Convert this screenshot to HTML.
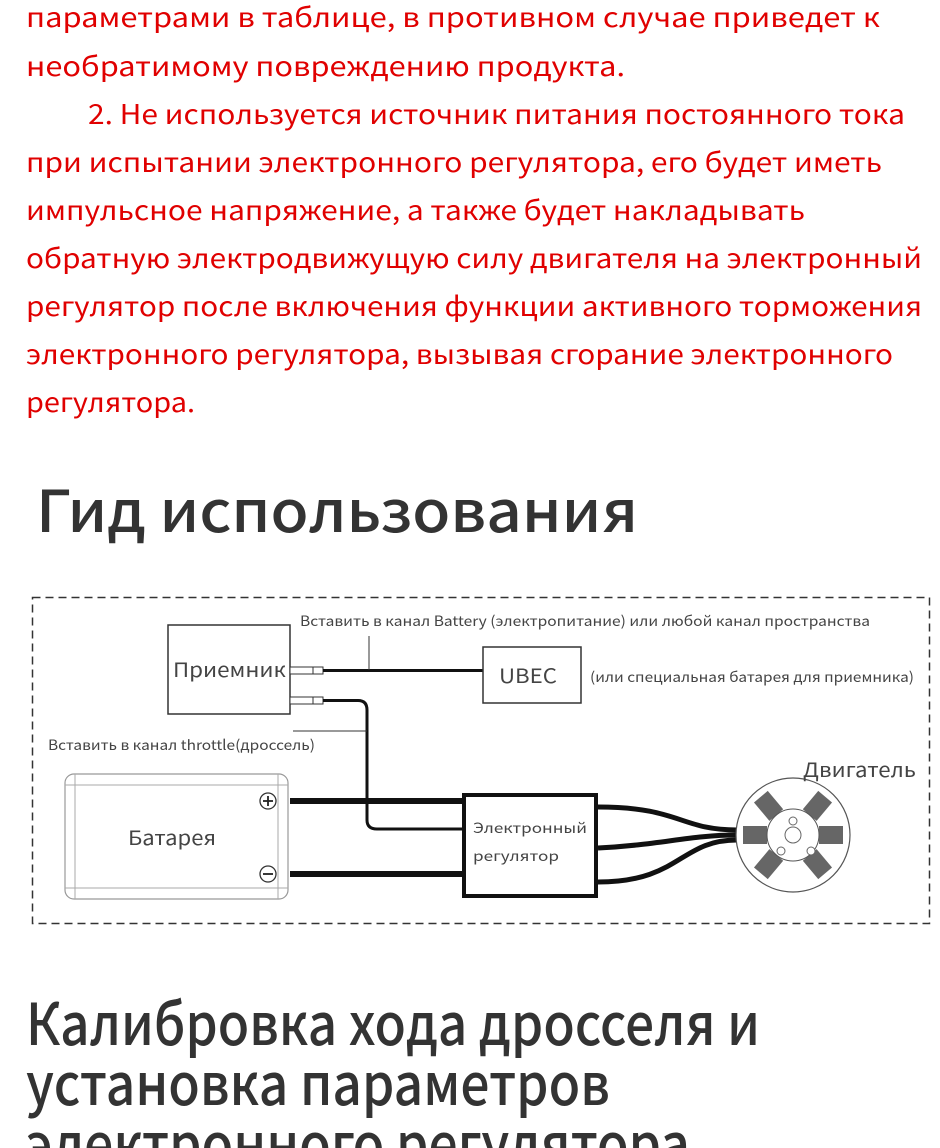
<!DOCTYPE html>
<html><head><meta charset="utf-8"><style>
html,body{margin:0;padding:0;background:#fff;width:940px;height:1148px;overflow:hidden}
svg{display:block}
text{font-family:"Noto Sans CJK SC","Liberation Sans",sans-serif}
.r{fill:#e00000;font-size:27px}
.h{fill:#333;font-size:58px;font-weight:500}
.d{fill:#444;font-size:14px}
.m{fill:#444;font-size:20px}
</style></head><body>
<svg width="940" height="1148" viewBox="0 0 940 1148">
<g class="r">
<text x="26" y="27" textLength="854" lengthAdjust="spacingAndGlyphs">параметрами в таблице, в противном случае приведет к</text>
<text x="26" y="76" textLength="599" lengthAdjust="spacingAndGlyphs">необратимому повреждению продукта.</text>
<text x="88" y="124" textLength="817" lengthAdjust="spacingAndGlyphs">2. Не используется источник питания постоянного тока</text>
<text x="26" y="172" textLength="856" lengthAdjust="spacingAndGlyphs">при испытании электронного регулятора, его будет иметь</text>
<text x="26" y="220" textLength="779" lengthAdjust="spacingAndGlyphs">импульсное напряжение, а также будет накладывать</text>
<text x="26" y="268" textLength="896" lengthAdjust="spacingAndGlyphs">обратную электродвижущую силу двигателя на электронный</text>
<text x="26" y="316" textLength="896" lengthAdjust="spacingAndGlyphs">регулятор после включения функции активного торможения</text>
<text x="26" y="364" textLength="867" lengthAdjust="spacingAndGlyphs">электронного регулятора, вызывая сгорание электронного</text>
<text x="26" y="412" textLength="169" lengthAdjust="spacingAndGlyphs">регулятора.</text>
</g>
<text class="h" x="36" y="532" textLength="602" lengthAdjust="spacingAndGlyphs">Гид использования</text>
<text class="h" x="26" y="1045" textLength="734" lengthAdjust="spacingAndGlyphs">Калибровка хода дросселя и</text>
<text class="h" x="26" y="1105" textLength="584" lengthAdjust="spacingAndGlyphs">установка параметров</text>
<text class="h" x="26" y="1165" textLength="664" lengthAdjust="spacingAndGlyphs">электронного регулятора</text>

<rect x="32.5" y="597.5" width="897" height="326" fill="none" stroke="#333" stroke-width="1.5" stroke-dasharray="8,5"/>
<rect x="168" y="625" width="122" height="89" fill="none" stroke="#333" stroke-width="1.5"/>
<text class="m" x="173" y="677" textLength="113" lengthAdjust="spacingAndGlyphs">Приемник</text>
<rect x="290" y="667" width="24" height="7" fill="#fff" stroke="#333"/><rect x="313" y="667" width="10" height="7" fill="#fff" stroke="#333"/>
<rect x="290" y="697" width="24" height="7" fill="#fff" stroke="#333"/><rect x="313" y="697" width="10" height="7" fill="#fff" stroke="#333"/>
<line x1="323" y1="670.5" x2="483" y2="670.5" stroke="#111" stroke-width="3"/>
<line x1="369" y1="636" x2="369" y2="670" stroke="#333" stroke-width="1"/>
<text class="d" x="300" y="626" textLength="570" lengthAdjust="spacingAndGlyphs">Вставить в канал  Battery (электропитание) или любой канал пространства</text>
<rect x="483" y="647" width="98" height="56" fill="none" stroke="#333" stroke-width="1.5"/>
<text class="m" x="499" y="683" textLength="58" lengthAdjust="spacingAndGlyphs">UBEC</text>
<text class="d" x="590" y="682" textLength="324" lengthAdjust="spacingAndGlyphs">(или специальная батарея для приемника)</text>
<path d="M323 700.5 H358 Q367 700.5 367 710 V820 Q367 829 377 829 H462" fill="none" stroke="#111" stroke-width="3"/>
<line x1="293" y1="731" x2="367" y2="731" stroke="#333" stroke-width="1"/>
<text class="d" x="48" y="750" textLength="267" lengthAdjust="spacingAndGlyphs">Вставить в канал throttle(дроссель)</text>
<rect x="65" y="774" width="223" height="125" rx="9" fill="none" stroke="#999" stroke-width="1.2"/>
<line x1="75" y1="774" x2="75" y2="899" stroke="#aaa"/><line x1="278" y1="774" x2="278" y2="899" stroke="#aaa"/>
<line x1="65" y1="785" x2="288" y2="785" stroke="#aaa"/><line x1="65" y1="888" x2="288" y2="888" stroke="#aaa"/>
<text class="m" x="128" y="845" textLength="88" lengthAdjust="spacingAndGlyphs">Батарея</text>
<circle cx="268" cy="801" r="8" fill="#fff" stroke="#333" stroke-width="1.3"/>
<line x1="263" y1="801" x2="273" y2="801" stroke="#222" stroke-width="1.8"/><line x1="268" y1="796" x2="268" y2="806" stroke="#222" stroke-width="1.8"/>
<circle cx="268" cy="874" r="8" fill="#fff" stroke="#333" stroke-width="1.3"/><line x1="263" y1="874" x2="273" y2="874" stroke="#222" stroke-width="1.8"/>
<line x1="290" y1="801" x2="462" y2="801" stroke="#111" stroke-width="6"/>
<line x1="290" y1="874" x2="462" y2="874" stroke="#111" stroke-width="6"/>
<rect x="464" y="795" width="132" height="101" fill="#fff" stroke="#111" stroke-width="4"/>
<text class="d" x="473" y="833" font-size="16" textLength="114" lengthAdjust="spacingAndGlyphs">Электронный</text>
<text class="d" x="473" y="861" font-size="16" textLength="86" lengthAdjust="spacingAndGlyphs">регулятор</text>
<g fill="none" stroke="#111" stroke-width="5">
<path d="M598 807 C680 807 680 830 737 830"/>
<path d="M598 848 C660 845 690 835 737 835"/>
<path d="M598 882 C680 882 680 840 737 840"/>
</g>
<circle cx="793" cy="835" r="57" fill="#fff" stroke="#555" stroke-width="1.2"/>
<g fill="#666">
<rect x="-9" y="-50" width="18" height="24" transform="translate(793 835) rotate(-40)"/>
<rect x="-9" y="-50" width="18" height="24" transform="translate(793 835) rotate(40)"/>
<rect x="-9" y="-50" width="18" height="24" transform="translate(793 835) rotate(90)"/>
<rect x="-9" y="-50" width="18" height="24" transform="translate(793 835) rotate(140)"/>
<rect x="-9" y="-50" width="18" height="24" transform="translate(793 835) rotate(220)"/>
<rect x="-9" y="-50" width="18" height="24" transform="translate(793 835) rotate(270)"/>
</g>
<circle cx="793" cy="835" r="26" fill="#fff" stroke="#555"/>
<circle cx="793" cy="835" r="8" fill="#fff" stroke="#666"/>
<circle cx="793" cy="821" r="4" fill="#fff" stroke="#666"/>
<circle cx="781" cy="851" r="4" fill="#fff" stroke="#666"/>
<circle cx="811" cy="851" r="4" fill="#fff" stroke="#666"/>
<text class="m" x="803" y="777" textLength="113" lengthAdjust="spacingAndGlyphs">Двигатель</text>
</svg>
</body></html>
